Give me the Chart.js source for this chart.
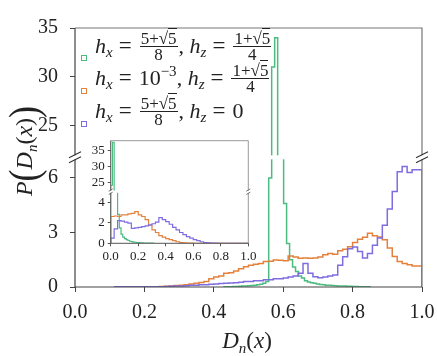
<!DOCTYPE html>
<html>
<head>
<meta charset="utf-8">
<script src="https://cdn.jsdelivr.net/npm/chart.js@4.4.1/dist/chart.umd.min.js"></script>
<style>
  body { margin: 0; background: #fff; }
  #wrap { position: relative; width: 437px; height: 356px; background: #fff; overflow: hidden; }
  #main { position: absolute; left: 0; top: 0; }
  #inset { position: absolute; left: 80px; top: 134px; }
  .tex { font-family: 'Liberation Serif', 'DejaVu Serif', serif; color: #222; white-space: nowrap; }
  .row { position: absolute; left: 95px; font-size: 22px; line-height: 26px; }
  .row sub { font-size: 15px; font-style: italic; vertical-align: -4px; line-height: 0; }
  .row sup { font-size: 15px; vertical-align: 9px; line-height: 0; }
  .eq { margin: 0 7px 0 6px; font-size: 23px; }
  .frac { display: inline-block; vertical-align: middle; text-align: center; font-size: 17px; line-height: 12px; margin: 0 1px; position: relative; top: -1px; }
  .frac .num { display: block; border-bottom: 1px solid #222; padding: 0 1px 1px; }
  .frac .den { display: block; padding-top: 2px; }
  .rad { border-top: 1px solid #222; }
  .box { position: absolute; left: 81px; width: 4px; height: 4px; border: 1.6px solid; background: #fff; }
  #ylab { position: absolute; left: 24px; top: 151px; transform: translate(-50%, -50%) rotate(-90deg); font-size: 24px; }
  #ylab .bp { font-size: 36px; display: inline-block; transform: scaleY(1.15); font-style: normal; vertical-align: -4px; }
  #ylab sub, #xlab sub { font-size: 15px; vertical-align: -5px; line-height: 0; }
  #xlab { position: absolute; left: 247px; top: 341px; transform: translate(-50%, -50%); font-size: 23px; }
</style>
</head>
<body>
<div id="wrap">
  <canvas id="main" width="437" height="356"></canvas>
  <canvas id="inset" width="180" height="130"></canvas>

  <div class="box" style="top:55px; border-color:#4cbb7f"></div>
  <div class="box" style="top:87.5px; border-color:#e4813c"></div>
  <div class="box" style="top:121px; border-color:#7e6ce0"></div>

  <div class="row tex" style="top:33px"><i>h</i><sub>x</sub><span class="eq">=</span><span class="frac"><span class="num">5+√<span class="rad">5</span></span><span class="den">8</span></span>, <i>h</i><sub>z</sub><span class="eq">=</span><span class="frac"><span class="num">1+√<span class="rad">5</span></span><span class="den">4</span></span></div>
  <div class="row tex" style="top:65px"><i>h</i><sub>x</sub><span class="eq">=</span>10<sup>−3</sup>, <i>h</i><sub>z</sub><span class="eq">=</span><span class="frac"><span class="num">1+√<span class="rad">5</span></span><span class="den">4</span></span></div>
  <div class="row tex" style="top:98px"><i>h</i><sub>x</sub><span class="eq">=</span><span class="frac"><span class="num">5+√<span class="rad">5</span></span><span class="den">8</span></span>, <i>h</i><sub>z</sub><span class="eq">=</span>0</div>

  <div id="ylab" class="tex"><i>P</i><span class="bp">(</span><i>D</i><sub><i>n</i></sub>(<i>x</i>)<span class="bp">)</span></div>
  <div id="xlab" class="tex"><i>D</i><sub><i>n</i></sub>(<i>x</i>)</div>
</div>

<script>
// ---- main panel data: step histograms, bins of width 1/70 ----
const mainBinWidth = 1 / 70;
const purpleMainStart = 8 / 70;
const purpleMain = [
  0.01, 0.01, 0.01, 0.01, 0.01, 0.01, 0.01,
  0.02, 0.02, 0.02, 0.02, 0.03,
  0.04, 0.05, 0.06, 0.07,
  0.09, 0.1, 0.12, 0.13,
  0.15, 0.17, 0.19, 0.21, 0.22,
  0.24, 0.26, 0.3, 0.3, 0.35, 0.35, 0.4, 0.4, 0.45, 0.45, 0.5, 0.55, 0.6, 0.75,
  1.3,
  0.75, 0.57, 0.51, 0.55, 0.6, 0.66,
  1.2, 1.67, 2.1, 2.2, 1.95, 1.6, 1.85, 2.3, 2.7, 3.4, 4.3, 5.25, 6.35, 6.63, 6.3, 6.45
];
const orangeMainStart = 14 / 70;
const orangeMain = [
  0.01, 0.01, 0.02, 0.02,
  0.03, 0.04, 0.06,
  0.08, 0.1, 0.13, 0.16,
  0.2, 0.25, 0.3,
  0.45, 0.55, 0.6, 0.75, 0.78, 0.88,
  1.0, 1.12, 1.2, 1.25, 1.3, 1.4, 1.42, 1.48, 1.47,
  1.45, 1.7, 1.65,
  1.58, 1.6, 1.58, 1.6, 1.65, 1.78, 1.85, 1.8,
  2.0, 2.08, 2.22, 2.45, 2.63, 2.74,
  2.96, 2.82, 2.75, 2.6, 2.14, 1.68, 1.4, 1.3, 1.22, 1.16
];
// green is binned finer
const greenMainStart = 0.4292;
const greenMainWidth = 0.0086;
const greenMain = [
  0.01, 0.01, 0.02, 0.02, 0.03, 0.03, 0.04, 0.05, 0.06, 0.07, 0.08, 0.1, 0.12, 0.15, 0.2, 0.3,
  6.0, 31, 34, 15, 10, 4.6, 2.4, 1.5, 1.1,
  0.85, 0.6, 0.5, 0.35, 0.28, 0.23, 0.2, 0.17, 0.14, 0.12, 0.1, 0.09, 0.08,
  0.07, 0.06, 0.05, 0.05, 0.04, 0.04, 0.03, 0.03, 0.02, 0.02, 0.01
];

// ---- inset data ----
const insetBinWidth = 0.025;
const orangeInset = [
  2.45, 2.6, 2.65, 2.6, 2.75, 2.75, 2.85, 2.9, 3.07, 2.75,
  2.6, 2.3, 1.75, 1.3, 1.05, 0.75, 0.6, 0.45, 0.35, 0.25,
  0.15, 0.08, 0.04, 0.02, 0.01, 0, 0, 0, 0, 0,
  0, 0, 0, 0, 0, 0, 0, 0, 0, 0
];
const purpleInset = [
  0.05, 0.5, 1.4, 2.2, 2.15, 2.05, 1.95, 1.45, 1.5, 1.55,
  1.62, 1.7, 1.78, 1.9, 2.05, 2.5, 2.3, 2.1, 1.85, 1.55,
  1.3, 1.05, 0.85, 0.65, 0.5, 0.35, 0.25, 0.15, 0.08, 0.04,
  0.02, 0.01, 0, 0, 0, 0, 0, 0, 0, 0
];
const greenInsetWidth = 0.0125;
const greenInset = [
  0.6, 24, 37.5, 12, 7, 2.8, 1.5, 0.9, 0.6, 0.45,
  0.35, 0.27, 0.2, 0.16, 0.12, 0.1, 0.08, 0.06, 0.05, 0.04,
  0.03, 0.02, 0.02, 0.01, 0.01
];

// ---- ticks ----
const xTickStep = 0.2;
const mainYTicks = [0, 3, 6, 25, 30, 35];
const insetYTicks = [0, 2, 4, 25, 30, 35];

// broken axis layouts (lower part, gap, upper part as fractions of height)
const mainBreak = { lowMax: 7, highMin: 22, max: 35, lowFrac: 0.491, gapFrac: 0.0193 };
const insetBreak = { lowMax: 4.85, highMin: 22.5, max: 38, lowFrac: 0.487, gapFrac: 0.032 };

const colors = { green: '#4cbb7f', orange: '#e4813c', purple: '#7e6ce0' };
const serif = "'Liberation Serif', 'DejaVu Serif', serif";

function toFrac(cfg, v) {
  if (v <= cfg.lowMax) return v / cfg.lowMax * cfg.lowFrac;
  if (v >= cfg.highMin) {
    return cfg.lowFrac + cfg.gapFrac +
      (v - cfg.highMin) / (cfg.max - cfg.highMin) * (1 - cfg.lowFrac - cfg.gapFrac);
  }
  return cfg.lowFrac + cfg.gapFrac / 2; // hidden inside the gap
}

function makeBrokenScale(id, cfg, tickValues) {
  class Broken extends Chart.LinearScale {
    buildTicks() { return tickValues.map(v => ({ value: v })); }
    getPixelForValue(v) {
      if (v === null || v === undefined) return NaN;
      return this.getPixelForDecimal(toFrac(cfg, v));
    }
  }
  Broken.id = id;
  Broken.defaults = Chart.LinearScale.defaults;
  return Broken;
}
Chart.register(makeBrokenScale('brokenMain', mainBreak, mainYTicks));
Chart.register(makeBrokenScale('brokenInset', insetBreak, insetYTicks));

function stepPoints(start, width, vals) {
  const pts = [{ x: start, y: 0 }];
  vals.forEach((v, i) => pts.push({ x: start + i * width, y: v }));
  const end = start + vals.length * width;
  pts.push({ x: end, y: vals[vals.length - 1] }, { x: end, y: 0 });
  return pts;
}

function series(pts, color, order, width) {
  return { data: pts, borderColor: color, borderWidth: width, stepped: 'after',
           pointRadius: 0, fill: false, order: order };
}

// frame, gap mask and "//" break marks (and, for the inset, the y tick labels)
function framePlugin(cfg, opt) {
  return {
    id: 'frame',
    beforeDraw(chart) {
      if (!opt.bg) return;
      const ctx = chart.ctx, a = chart.chartArea;
      ctx.save();
      ctx.fillStyle = '#fff';
      ctx.fillRect(a.left, a.top, a.right - a.left, a.bottom - a.top);
      ctx.restore();
    },
    afterDraw(chart) {
      const ctx = chart.ctx, a = chart.chartArea, ys = chart.scales.y;
      ctx.save();
      ctx.lineWidth = opt.lw;
      ctx.strokeStyle = opt.light;
      ctx.beginPath();
      ctx.moveTo(a.left, a.top); ctx.lineTo(a.right, a.top); ctx.lineTo(a.right, a.bottom);
      ctx.stroke();
      ctx.strokeStyle = opt.dark;
      ctx.beginPath();
      ctx.moveTo(a.left, a.top); ctx.lineTo(a.left, a.bottom); ctx.lineTo(a.right, a.bottom);
      ctx.stroke();
      const yLow = ys.getPixelForDecimal(cfg.lowFrac);
      const yHigh = ys.getPixelForDecimal(cfg.lowFrac + cfg.gapFrac);
      ctx.fillStyle = '#fff';
      ctx.fillRect(a.left - 3, yHigh + 0.5, a.right - a.left + 6, yLow - yHigh - 1);
      ctx.strokeStyle = opt.mark;
      ctx.lineWidth = opt.mlw;
      [a.left, a.right].forEach(x => {
        [yHigh, yLow].forEach(y => {
          ctx.beginPath();
          ctx.moveTo(x - opt.sw, y + opt.sh);
          ctx.lineTo(x + opt.sw, y - opt.sh);
          ctx.stroke();
        });
      });
      if (opt.yLabels) {
        ctx.fillStyle = '#222';
        ctx.font = opt.yLabels.size + 'px ' + serif;
        ctx.textAlign = 'right';
        ctx.textBaseline = 'middle';
        ys.ticks.forEach(t => {
          ctx.fillText(String(t.value), a.left - opt.yLabels.gap, ys.getPixelForValue(t.value));
        });
      }
      ctx.restore();
    }
  };
}

function axisOpts(fontSize, tickLen, pad, gridColor) {
  return {
    ticks: { font: { family: serif, size: fontSize, lineHeight: 1 }, color: '#222', padding: pad,
             autoSkip: false, autoSkipPadding: 0, maxRotation: 0 },
    grid: { display: true, drawOnChartArea: false, drawTicks: true, tickLength: tickLen,
            tickWidth: 1, color: gridColor },
    border: { display: false }
  };
}

// ---- main chart ----
const mx = axisOpts(20, 5, 11, '#444');
const my = axisOpts(20, 5, 12, '#444');
new Chart(document.getElementById('main'), {
  type: 'line',
  data: {
    datasets: [
      series(stepPoints(greenMainStart, greenMainWidth, greenMain), colors.green, 3, 1.5),
      series(stepPoints(orangeMainStart, mainBinWidth, orangeMain), colors.orange, 2, 1.5),
      series(stepPoints(purpleMainStart, mainBinWidth, purpleMain), colors.purple, 1, 1.5)
    ]
  },
  options: {
    responsive: false, animation: false, events: [], devicePixelRatio: 1,
    layout: { padding: { left: 0, top: 28, right: 15, bottom: 0 } },
    plugins: { legend: { display: false }, tooltip: { enabled: false } },
    scales: {
      x: Object.assign(mx, {
        type: 'linear', min: 0, max: 1,
        ticks: Object.assign(mx.ticks, { stepSize: xTickStep, callback: v => v.toFixed(1) }),
        afterFit: s => { s.height = 69; s.paddingLeft = 0; s.paddingRight = 0; }
      }),
      y: Object.assign(my, {
        type: 'brokenMain', min: 0, max: 35,
        ticks: Object.assign(my.ticks, { callback: v => String(v) }),
        afterFit: s => { s.width = 75; s.paddingTop = 0; s.paddingBottom = 0; }
      })
    }
  },
  plugins: [framePlugin(mainBreak, { lw: 1.2, light: '#777', dark: '#444', mark: '#333', mlw: 1.1, sw: 6, sh: 3 })]
});

// ---- inset chart ----
const ix = axisOpts(13, 3, 4, '#555');
const iy = axisOpts(13, 3, 3, '#555');
new Chart(document.getElementById('inset'), {
  type: 'line',
  data: {
    datasets: [
      series(stepPoints(0, greenInsetWidth, greenInset), colors.green, 3, 1.2),
      series(stepPoints(0, insetBinWidth, orangeInset), colors.orange, 2, 1.2),
      series(stepPoints(0, insetBinWidth, purpleInset), colors.purple, 1, 1.2)
    ]
  },
  options: {
    responsive: false, animation: false, events: [], devicePixelRatio: 1,
    layout: { padding: { left: 0, top: 6.7, right: 11.7, bottom: 0 } },
    plugins: { legend: { display: false }, tooltip: { enabled: false } },
    scales: {
      x: Object.assign(ix, {
        type: 'linear', min: 0, max: 1,
        ticks: Object.assign(ix.ticks, { stepSize: xTickStep, callback: v => v.toFixed(1) }),
        afterFit: s => { s.height = 20.7; s.paddingLeft = 0; s.paddingRight = 0; }
      }),
      y: Object.assign(iy, {
        type: 'brokenInset', min: 0, max: 38,
        ticks: Object.assign(iy.ticks, { display: false }),
        afterFit: s => { s.width = 30.7; s.paddingTop = 0; s.paddingBottom = 0; }
      })
    }
  },
  plugins: [framePlugin(insetBreak, { bg: true, lw: 1, light: '#999', dark: '#555', mark: '#555',
                                      mlw: 0.8, sw: 2, sh: 1.2, yLabels: { size: 13, gap: 6 } })]
});
</script>
</body>
</html>
